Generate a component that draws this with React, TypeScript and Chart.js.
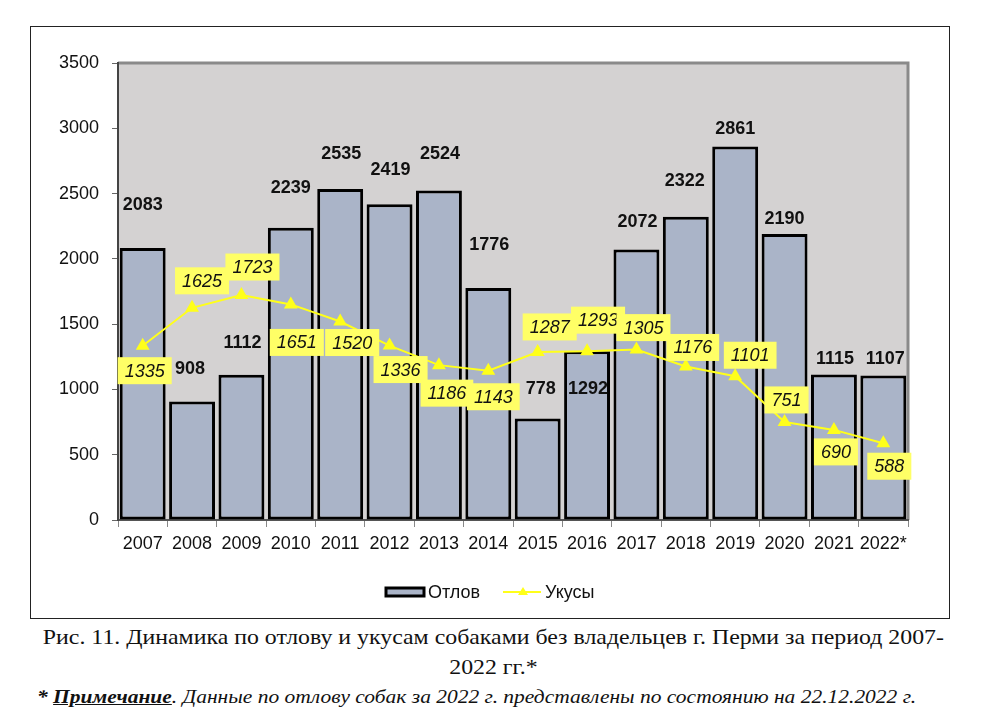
import React, { useEffect, useRef } from "react";
import { Chart, registerables } from "chart.js";

Chart.register(...registerables);

const years = ["2007", "2008", "2009", "2010", "2011", "2012", "2013", "2014", "2015", "2016", "2017", "2018", "2019", "2020", "2021", "2022*"];
const captured = [2083, 908, 1112, 2239, 2535, 2419, 2524, 1776, 778, 1292, 2072, 2322, 2861, 2190, 1115, 1107];
const bites = [1335, 1625, 1723, 1651, 1520, 1336, 1186, 1143, 1287, 1293, 1305, 1176, 1101, 751, 690, 588];
const yMin = 0;
const yMax = 3500;
const yStep = 500;
const seriesNames = ["Отлов", "Укусы"];

// label placement offsets (layout, relative to each mark)
const barLabelDx = [0, -2, 1, 0, 1, 1, 1, 1, 3, 1, 1, -1, 0, 0, 1, 2];
const barLabelDy = [-43, -32, -32, -40, -35, -34, -36, -43, -29, 38, -27, -36, -17, -15, -15, -16];
const lineLabelDx = [2, 10, 11, 6, 12, 11, 8, 5, 12, 11, 7, 7, 15, 2, 2, 6];
const lineLabelDy = [25, -27, -28, 38, 21, 24, 28, 26, -25, -31, -22, -19, -21, -22, 22, 23];

const BAR_FILL = "#aab4c8";
const PLOT_BG = "#d4d2d2";
const YELLOW = "#ffff1a";
const BOX_YELLOW = "#ffff66";
const SANS = "'Liberation Sans', Arial, sans-serif";
const SERIF = "'Liberation Serif', 'Times New Roman', serif";

const customPlugin = {
  id: "custom",
  beforeDraw(chart: any) {
    const { ctx, chartArea: a } = chart;
    ctx.save();
    ctx.fillStyle = PLOT_BG;
    ctx.fillRect(a.left, a.top, a.right - a.left, a.bottom - a.top);
    ctx.strokeStyle = "#8a8a8a";
    ctx.lineWidth = 3;
    ctx.beginPath();
    ctx.moveTo(a.left, a.top);
    ctx.lineTo(a.right, a.top);
    ctx.lineTo(a.right, a.bottom);
    ctx.stroke();
    ctx.restore();
  },
  afterDraw(chart: any) {
    const { ctx } = chart;
    ctx.save();
    // bar labels
    const barMeta = chart.getDatasetMeta(1);
    ctx.font = `bold 18px ${SANS}`;
    ctx.fillStyle = "#111";
    ctx.textAlign = "center";
    ctx.textBaseline = "middle";
    barMeta.data.forEach((el: any, i: number) => {
      ctx.fillText(String(captured[i]), el.x + barLabelDx[i], el.y + barLabelDy[i]);
    });
    // line labels
    const lineMeta = chart.getDatasetMeta(0);
    ctx.font = `italic 18px ${SANS}`;
    lineMeta.data.forEach((el: any, i: number) => {
      const t = String(bites[i]);
      const w = ctx.measureText(t).width + 14;
      const h = 27;
      const cx = el.x + lineLabelDx[i];
      const cy = el.y + lineLabelDy[i];
      ctx.fillStyle = BOX_YELLOW;
      ctx.fillRect(cx - w / 2, cy - h / 2, w, h);
      ctx.fillStyle = "#111";
      ctx.fillText(t, cx, cy + 1);
    });
    // legend
    ctx.textAlign = "left";
    ctx.font = `18px ${SANS}`;
    ctx.fillStyle = BAR_FILL;
    ctx.fillRect(355, 561, 38, 8);
    ctx.strokeStyle = "#000";
    ctx.lineWidth = 3;
    ctx.strokeRect(355, 561, 38, 8);
    ctx.fillStyle = "#111";
    ctx.fillText(seriesNames[0], 397, 566);
    ctx.strokeStyle = YELLOW;
    ctx.lineWidth = 2;
    ctx.beginPath();
    ctx.moveTo(472, 565);
    ctx.lineTo(510, 565);
    ctx.stroke();
    ctx.fillStyle = YELLOW;
    ctx.beginPath();
    ctx.moveTo(492, 560);
    ctx.lineTo(497, 568);
    ctx.lineTo(487, 568);
    ctx.closePath();
    ctx.fill();
    ctx.fillStyle = "#111";
    ctx.fillText(seriesNames[1], 514, 566);
    ctx.restore();
  },
};

export default function App() {
  const ref = useRef<HTMLCanvasElement>(null);
  useEffect(() => {
    if (!ref.current) return;
    const chart = new Chart(ref.current, {
      type: "bar",
      data: {
        labels: years,
        datasets: [
          {
            type: "line",
            label: seriesNames[1],
            data: bites,
            borderColor: YELLOW,
            backgroundColor: YELLOW,
            borderWidth: 2,
            pointStyle: "triangle",
            pointRadius: 6,
            pointBackgroundColor: YELLOW,
            pointBorderColor: YELLOW,
            tension: 0,
            order: 0,
          } as any,
          {
            type: "bar",
            label: seriesNames[0],
            data: captured,
            backgroundColor: BAR_FILL,
            borderColor: "#000",
            borderWidth: 3,
            borderSkipped: false,
            barPercentage: 0.93,
            categoryPercentage: 1,
            order: 1,
          } as any,
        ],
      },
      options: {
        responsive: false,
        animation: false,
        layout: { padding: { top: 36, right: 41, left: 0, bottom: 0 } },
        plugins: { legend: { display: false }, tooltip: { enabled: false } },
        scales: {
          x: {
            offset: true,
            grid: { display: true, offset: true, drawOnChartArea: false, drawTicks: true, tickLength: 7, color: "#888" },
            border: { display: true, color: "#555", width: 2 },
            ticks: { font: { family: SANS, size: 18 }, color: "#111", padding: 6, maxRotation: 0, autoSkip: false },
            afterFit: (s: any) => { s.height = 98; },
          },
          y: {
            min: yMin,
            max: yMax,
            grid: { display: true, drawOnChartArea: false, drawTicks: true, tickLength: 6, color: "#666" },
            border: { display: true, color: "#444", width: 2 },
            ticks: { stepSize: yStep, font: { family: SANS, size: 18 }, color: "#111", padding: 13, callback: (v: any) => String(v) },
            afterFit: (s: any) => { s.width = 87; },
          },
        },
      },
      plugins: [customPlugin],
    });
    return () => chart.destroy();
  }, []);

  return (
    <div style={{ position: "absolute", left: 0, top: 0, width: 986, height: 721, background: "#fff", overflow: "hidden" }}>
      <div style={{ position: "absolute", left: 30, top: 26, width: 920, height: 593, border: "1px solid #222", boxSizing: "border-box" }}>
        <canvas ref={ref} width={918} height={591} style={{ display: "block" }} />
      </div>
      <div style={{ position: "absolute", left: 0, top: 622, width: 986, textAlign: "center", fontFamily: SERIF, fontSize: 21, lineHeight: "30px", color: "#111", transform: "scaleX(1.135)", transformOrigin: "490px 0" }}>
        Рис. 11. Динамика по отлову и укусам собаками без владельцев г. Перми за период 2007-
        <br />
        2022 гг.*
      </div>
      <div style={{ position: "absolute", left: 37, top: 686, whiteSpace: "nowrap", fontFamily: SERIF, fontSize: 19, fontStyle: "italic", color: "#111", transform: "scaleX(1.13)", transformOrigin: "0 0" }}>
        <b>* <u>Примечание</u></b>. Данные по отлову собак за 2022 г. представлены по состоянию на 22.12.2022 г.
      </div>
    </div>
  );
}
